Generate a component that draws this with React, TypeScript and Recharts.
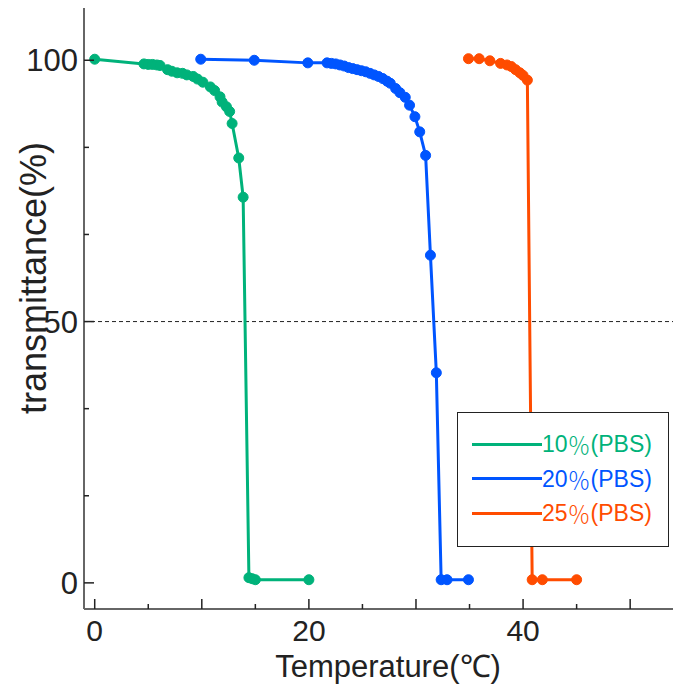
import { LineChart, Line, XAxis, YAxis, ReferenceLine, Legend } from 'recharts';

// 10% (PBS)
const PBS10 = [
  { x: 0, y: 100.2 }, { x: 4.6, y: 99.3 }, { x: 5.0, y: 99.2 }, { x: 5.4, y: 99.2 },
  { x: 5.8, y: 99.1 }, { x: 6.1, y: 99.0 }, { x: 6.8, y: 98.2 }, { x: 7.2, y: 97.9 },
  { x: 7.7, y: 97.6 }, { x: 8.2, y: 97.5 }, { x: 8.6, y: 97.2 }, { x: 9.2, y: 96.9 },
  { x: 9.6, y: 96.4 }, { x: 10.1, y: 95.8 }, { x: 10.8, y: 94.9 }, { x: 11.2, y: 94.2 },
  { x: 11.7, y: 93.0 }, { x: 11.9, y: 92.0 }, { x: 12.3, y: 91.1 }, { x: 12.6, y: 90.2 },
  { x: 12.83, y: 87.9 }, { x: 13.45, y: 81.3 }, { x: 13.86, y: 73.8 }, { x: 14.4, y: 1.0 },
  { x: 14.7, y: 0.8 }, { x: 15.0, y: 0.6 }, { x: 20.0, y: 0.6 },
];

// 20% (PBS)
const PBS20 = [
  { x: 9.9, y: 100.2 }, { x: 14.9, y: 100.0 }, { x: 19.9, y: 99.5 }, { x: 21.7, y: 99.5 },
  { x: 22.1, y: 99.4 }, { x: 22.5, y: 99.3 }, { x: 22.9, y: 99.1 }, { x: 23.3, y: 98.9 },
  { x: 23.7, y: 98.6 }, { x: 24.1, y: 98.4 }, { x: 24.5, y: 98.2 }, { x: 24.9, y: 98.0 },
  { x: 25.3, y: 97.8 }, { x: 25.7, y: 97.5 }, { x: 26.1, y: 97.2 }, { x: 26.5, y: 96.9 },
  { x: 26.9, y: 96.5 }, { x: 27.3, y: 96.0 }, { x: 27.6, y: 95.6 }, { x: 28.1, y: 94.6 },
  { x: 28.5, y: 93.8 }, { x: 29.0, y: 92.9 }, { x: 29.4, y: 91.4 }, { x: 29.9, y: 89.2 },
  { x: 30.35, y: 86.3 }, { x: 30.9, y: 81.8 }, { x: 31.35, y: 62.7 }, { x: 31.9, y: 40.2 },
  { x: 32.35, y: 0.6 }, { x: 32.9, y: 0.6 }, { x: 34.9, y: 0.6 },
];

// 25% (PBS)
const PBS25 = [
  { x: 34.9, y: 100.3 }, { x: 35.9, y: 100.3 }, { x: 36.9, y: 99.9 }, { x: 37.9, y: 99.4 },
  { x: 38.5, y: 99.1 }, { x: 38.9, y: 98.8 }, { x: 39.3, y: 98.2 }, { x: 39.7, y: 97.6 },
  { x: 40.0, y: 97.1 }, { x: 40.4, y: 96.2 }, { x: 40.85, y: 0.6 }, { x: 41.8, y: 0.6 },
  { x: 45.0, y: 0.6 },
];

const X_TICKS = [0, 5, 10, 15, 20, 25, 30, 35, 40, 45, 50];
const X_LABELS = [0, 20, 40];
const Y_TICKS = [0, 100 / 6, 200 / 6, 50, 400 / 6, 500 / 6, 100];
const Y_LABELS = [0, 50, 100];

const FONT = '"Liberation Sans", Arial, sans-serif';
const CJK = '"Noto Sans CJK JP", sans-serif';
const INK = '#222';

const SERIES = [
  { name: '10％(PBS)', color: '#00b27a', data: PBS10 },
  { name: '20％(PBS)', color: '#0055ff', data: PBS20 },
  { name: '25％(PBS)', color: '#ff4c00', data: PBS25 },
];

const XTick = (props: any) => {
  const { x, y, payload } = props;
  const v = payload.value;
  const major = v % 10 === 0;
  return (
    <g>
      <line x1={x} x2={x} y1={y} y2={y - (major ? 10 : 5)} stroke={INK} strokeWidth={1.5} />
      {X_LABELS.includes(v) && (
        <text x={x} y={y + 32} textAnchor="middle" fontSize={30} fill={INK} fontFamily={FONT}>
          {v}
        </text>
      )}
    </g>
  );
};

const YTick = (props: any) => {
  const { x, y, payload } = props;
  const v = Math.round(payload.value * 1000) / 1000;
  const major = Y_LABELS.includes(v);
  return (
    <g>
      <line x1={x} x2={x + (major ? 10 : 5)} y1={y} y2={y} stroke={INK} strokeWidth={1.5} />
      {major && (
        <text x={x - 6} y={y + 11} textAnchor="end" fontSize={31} fill={INK} fontFamily={FONT}>
          {v}
        </text>
      )}
    </g>
  );
};

const LegendBox = (props: any) => {
  const items = props.payload || [];
  return (
    <div
      style={{
        width: 212,
        height: 135,
        boxSizing: 'border-box',
        border: `1.5px solid ${INK}`,
        background: '#fff',
        position: 'relative',
      }}
    >
      {items.map((it: any, i: number) => {
        const [num, rest] = String(it.value).split('％');
        return (
          <div
            key={it.value}
            style={{
              position: 'absolute',
              left: 14,
              top: 31 + i * 34.7 - 15,
              height: 30,
              display: 'flex',
              alignItems: 'center',
              color: it.color,
              fontSize: 23,
              fontFamily: FONT,
              lineHeight: '30px',
              whiteSpace: 'nowrap',
            }}
          >
            <div style={{ width: 70, height: 3, background: it.color }} />
            <span>{num}</span>
            <span style={{ fontFamily: CJK, fontWeight: 300 }}>％</span>
            <span>{rest}</span>
          </div>
        );
      })}
    </div>
  );
};

export default function App() {
  return (
    <div style={{ position: 'absolute', left: 0, top: 0, background: '#fff' }}>
      <LineChart width={673} height={691} margin={{ top: 8, right: 0, bottom: 0, left: 0 }}>
        <XAxis
          type="number"
          dataKey="x"
          domain={[-1, 54]}
          ticks={X_TICKS}
          interval={0}
          allowDataOverflow
          height={82}
          tickSize={0}
          tickMargin={0}
          tickLine={false}
          axisLine={{ stroke: '#666', strokeWidth: 2 }}
          tick={<XTick />}
          label={{
            content: () => (
              <text x={388} y={677} textAnchor="middle" fontSize={31} fill={INK} fontFamily={FONT}>
                Temperature(℃)
              </text>
            ),
          }}
        />
        <YAxis
          type="number"
          dataKey="y"
          domain={[-5, 110]}
          ticks={Y_TICKS}
          interval={0}
          allowDataOverflow
          width={84}
          tickSize={0}
          tickMargin={0}
          tickLine={false}
          axisLine={{ stroke: '#666', strokeWidth: 2 }}
          tick={<YTick />}
          label={{
            content: () => (
              <text
                x={46}
                y={278}
                transform="rotate(-90 46 278)"
                textAnchor="middle"
                fontSize={36}
                fill={INK}
                fontFamily={FONT}
              >
                transmittance(%)
              </text>
            ),
          }}
        />
        <ReferenceLine y={50} stroke={INK} strokeDasharray="4 3" strokeWidth={1} />
        {SERIES.map((s) => (
          <Line
            key={s.name}
            name={s.name}
            data={s.data}
            dataKey="y"
            type="linear"
            stroke={s.color}
            strokeWidth={3}
            dot={{ r: 5, fill: s.color, stroke: s.color, strokeWidth: 1 }}
            isAnimationActive={false}
          />
        ))}
        <Legend
          layout="vertical"
          align="center"
          verticalAlign="middle"
          content={<LegendBox />}
          wrapperStyle={{ left: 457, top: 412, width: 212, height: 135 }}
        />
      </LineChart>
    </div>
  );
}
